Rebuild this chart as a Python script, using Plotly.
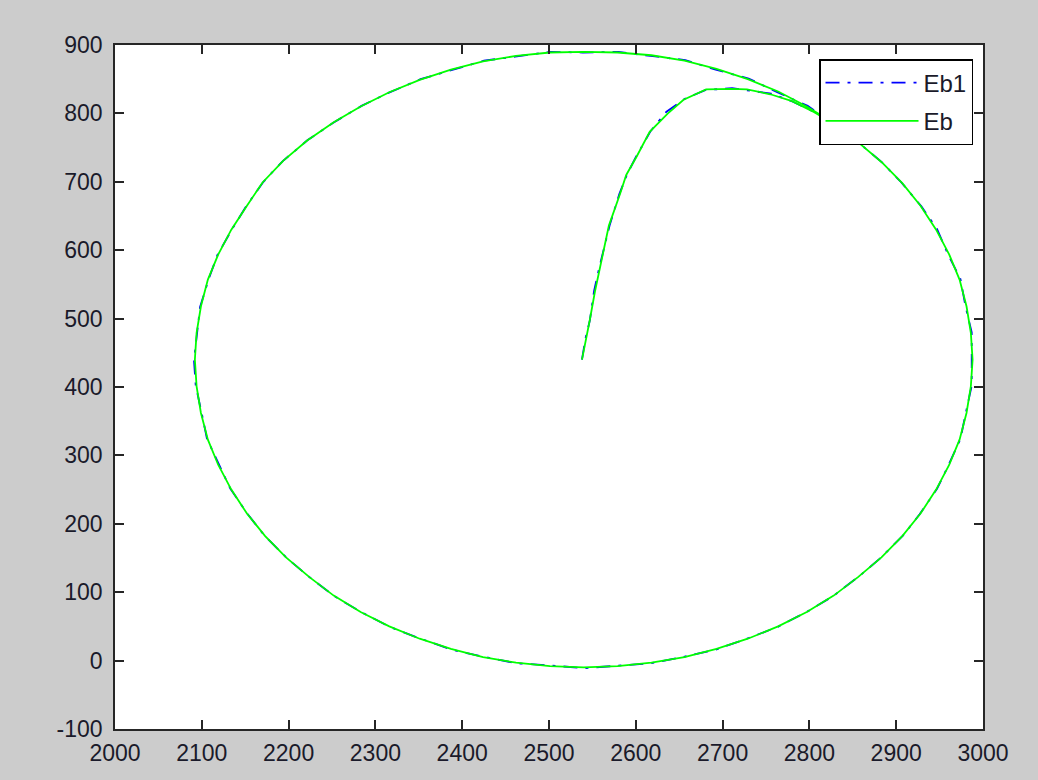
import plotly.graph_objects as go

# ---- data ----
eb_x = [2538, 2543, 2547, 2553, 2559, 2569, 2582, 2589, 2601, 2616, 2637, 2655, 2681, 2710, 2728, 2755, 2780,
        2805, 2828, 2856, 2883, 2907, 2928, 2946, 2961, 2973, 2981, 2986, 2988, 2986, 2981, 2973, 2961, 2946,
        2928, 2907, 2883, 2856, 2828, 2797, 2764, 2729, 2693, 2656, 2618, 2579, 2540, 2501, 2462, 2424, 2387,
        2351, 2316, 2283, 2252, 2224, 2197, 2173, 2152, 2134, 2119, 2107, 2099, 2094, 2092, 2094, 2099, 2107,
        2119, 2134, 2152, 2170, 2194, 2221, 2252, 2283, 2316, 2351, 2387, 2424, 2462, 2501, 2540, 2579, 2618,
        2656, 2693, 2729, 2764, 2797, 2828]
eb_y = [440, 470, 498, 540, 576, 636, 683, 710, 737, 773, 800, 820, 835, 836, 835, 828, 818,
        802, 785, 758, 729, 698, 665, 630, 594, 557, 518, 479, 440, 401, 362, 323, 286, 250,
        215, 182, 151, 122, 95, 71, 50, 32, 17, 5, -3, -8, -10, -8, -3, 5, 17,
        32, 50, 71, 95, 122, 151, 182, 215, 250, 286, 323, 362, 401, 440, 479, 518, 557,
        594, 630, 665, 699, 731, 760, 787, 810, 831, 849, 864, 876, 884, 889, 890, 889, 885,
        877, 865, 850, 832, 810, 786]

eb1_x = [2538, 2542, 2547, 2552, 2558, 2570, 2581, 2590, 2600, 2617, 2635, 2656, 2680, 2711, 2727, 2756, 2781,
         2804, 2829, 2855, 2884, 2906, 2929, 2947, 2960, 2974, 2980, 2987, 2987, 2987, 2980, 2974, 2960, 2947,
         2927, 2908, 2882, 2857, 2827, 2798, 2763, 2730, 2692, 2657, 2617, 2580, 2541, 2500, 2463, 2423, 2388,
         2350, 2317, 2282, 2253, 2223, 2198, 2172, 2153, 2133, 2120, 2106, 2100, 2093, 2091, 2095, 2098, 2108,
         2118, 2135, 2151, 2171, 2193, 2222, 2251, 2284, 2315, 2352, 2386, 2425, 2461, 2502, 2539, 2580, 2617,
         2657, 2692, 2730, 2763, 2798, 2827]
eb1_y = [440, 471, 497, 541, 575, 637, 682, 711, 736, 774, 802, 821, 834, 837, 834, 829, 817,
         803, 784, 759, 728, 699, 664, 631, 593, 558, 517, 480, 439, 402, 361, 324, 285, 251,
         214, 183, 150, 123, 94, 72, 49, 33, 16, 6, -4, -7, -11, -7, -4, 6, 16,
         33, 49, 72, 94, 123, 150, 183, 214, 251, 285, 324, 361, 402, 439, 480, 517, 558,
         593, 631, 664, 700, 730, 761, 786, 811, 830, 850, 863, 877, 883, 890, 889, 890, 884,
         878, 864, 851, 831, 811, 785]

x_ticks = list(range(2000, 3001, 100))
x_ticktext = [str(v) for v in x_ticks]
y_ticks = list(range(-100, 901, 100))
y_ticktext = [str(v) for v in y_ticks]  # plain hyphen for "-100"

FONT = "Liberation Sans, Arial, sans-serif"

fig = go.Figure()
fig.add_trace(go.Scatter(x=eb1_x, y=eb1_y, mode="lines", name="Eb1", legendgroup="a",
                         line=dict(color="#0000ff", width=1.8, dash="14px,8px,3px,8px")))
fig.add_trace(go.Scatter(x=eb_x, y=eb_y, mode="lines", name="Eb", legendgroup="b",
                         line=dict(color="#00ff00", width=1.8)))

axis_common = dict(showgrid=False, zeroline=False, showline=True, linecolor="#262626", linewidth=1.5,
                   ticks="inside", ticklen=9, tickwidth=1.5, tickcolor="#262626", mirror="ticks",
                   tickfont=dict(family=FONT, size=23, color="#1a1a2a"))

fig.update_layout(
    width=1038, height=780,
    margin=dict(l=115, r=55, t=45, b=51),
    paper_bgcolor="#cccccc", plot_bgcolor="#ffffff",
    xaxis=dict(range=[2000, 3000], tickvals=x_ticks, ticktext=x_ticktext, ticklabelstandoff=3, **axis_common),
    yaxis=dict(range=[-100, 900], tickvals=y_ticks, ticktext=y_ticktext, ticklabelstandoff=6, **axis_common),
    showlegend=True,
    legend=dict(x=0.9885, y=0.9795, xanchor="right", yanchor="top",
                bgcolor="#ffffff", bordercolor="#000000", borderwidth=1.5,
                font=dict(family=FONT, size=24, color="#1a1a2a"),
                itemwidth=93, tracegroupgap=4),
)

fig.write_html("out.html")
